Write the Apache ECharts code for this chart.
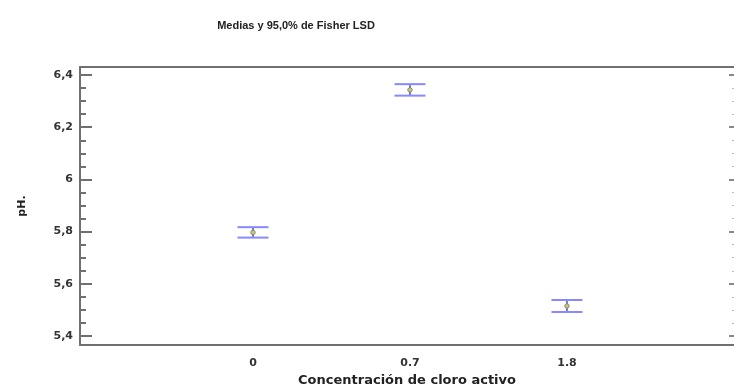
<!DOCTYPE html>
<html><head><meta charset="utf-8">
<script src="https://cdn.jsdelivr.net/npm/echarts@6/dist/echarts.min.js"></script>
<style>html,body{margin:0;padding:0;background:#fff}#c{width:734px;height:387px}</style>
</head><body><div id="c"></div>
<script>
const categories = ['0', '0.7', '1.8'];
const means = [5.797, 6.343, 5.515];
const lower = [5.777, 6.321, 5.492];
const upper = [5.817, 6.365, 5.538];
const yMajorTicks = [5.4, 5.6, 5.8, 6.0, 6.2, 6.4];
const yMinorTicks = [5.45,5.5,5.55,5.65,5.7,5.75,5.85,5.9,5.95,6.05,6.1,6.15,6.25,6.3,6.35];
const xPositions = [1, 2, 3];

const font = 'Liberation Sans, Arial, sans-serif';
const wideFont = 'DejaVu Sans, sans-serif';
const axisColor = '#707070';
const data = categories.map((c, i) => [xPositions[i], means[i], lower[i], upper[i]]);

function yAxisCfg(opts) {
  return Object.assign({
    type: 'value', min: 5.3655, max: 6.4307, gridIndex: 0, offset: 0,
    splitLine: {show: false},
    axisLine: {show: false, onZero: false},
    axisLabel: {show: false},
    axisTick: {show: false}
  }, opts);
}

const chart = echarts.init(document.getElementById('c'));
chart.setOption({
  animation: false,
  backgroundColor: '#fff',
  title: {
    text: 'Medias y 95,0% de Fisher LSD',
    left: 291, top: 15, textAlign: 'center',
    textStyle: {fontFamily: font, fontSize: 11, fontWeight: 'bold', color: '#222'}
  },
  grid: {left: 80, right: 0, top: 67, bottom: 42, containLabel: false, outerBoundsMode: 'none'},
  xAxis: [{
    type: 'value', min: -0.102, max: 4.064, position: 'bottom', offset: 0,
    splitLine: {show: false},
    axisLine: {show: true, onZero: false, lineStyle: {color: axisColor, width: 2}},
    axisTick: {show: false},
    axisLabel: {
      show: true, customValues: xPositions, margin: 13,
      formatter: v => categories[xPositions.indexOf(Math.round(v))] || '',
      fontFamily: wideFont, fontSize: 11, fontWeight: 'bold', color: '#333'
    },
    name: 'Concentración de cloro activo', nameLocation: 'middle', nameGap: 27,
    nameTextStyle: {fontFamily: wideFont, fontSize: 13, fontWeight: 'bold', color: '#222'}
  }, {
    type: 'value', min: -0.102, max: 4.064, position: 'top', offset: 0,
    splitLine: {show: false},
    axisLine: {show: true, onZero: false, lineStyle: {color: axisColor, width: 2}},
    axisTick: {show: false}, axisLabel: {show: false}
  }],
  yAxis: [
    yAxisCfg({
      position: 'left',
      axisLine: {show: true, onZero: false, lineStyle: {color: axisColor, width: 2}},
      axisTick: {show: true, inside: true, length: 12, customValues: yMajorTicks, lineStyle: {color: axisColor, width: 2}},
      axisLabel: {show: true, customValues: yMajorTicks, margin: 7,
        formatter: v => String(Math.round(v * 10) / 10).replace('.', ','),
        fontFamily: wideFont, fontSize: 11, fontWeight: 'bold', color: '#333'},
      name: 'pH.', nameLocation: 'middle', nameGap: 52, nameRotate: 90,
      nameTextStyle: {fontFamily: wideFont, fontSize: 11, fontWeight: 'bold', color: '#222'}
    }),
    yAxisCfg({
      position: 'left',
      axisTick: {show: true, inside: true, length: 6, customValues: yMinorTicks, lineStyle: {color: axisColor, width: 2}}
    }),
    yAxisCfg({
      position: 'right',
      axisTick: {show: true, inside: true, length: 5, customValues: yMajorTicks, lineStyle: {color: '#888', width: 2}}
    }),
    yAxisCfg({
      position: 'right',
      axisTick: {show: true, inside: true, length: 2, customValues: yMinorTicks, lineStyle: {color: '#bbb', width: 1}}
    })
  ],
  series: [{
    type: 'custom',
    xAxisIndex: 0, yAxisIndex: 0,
    data: data,
    renderItem: function (params, api) {
      const x = api.value(0);
      const pm = api.coord([x, api.value(1)]);
      const pl = api.coord([x, api.value(2)]);
      const pu = api.coord([x, api.value(3)]);
      const hw = 15.5;
      return {
        type: 'group',
        children: [
          {type: 'line', shape: {x1: pm[0], y1: pl[1], x2: pm[0], y2: pu[1]}, style: {stroke: '#4a4ae0', lineWidth: 1.5}},
          {type: 'line', shape: {x1: pm[0] - hw, y1: pu[1], x2: pm[0] + hw, y2: pu[1]}, style: {stroke: '#8888ff', lineWidth: 2}},
          {type: 'line', shape: {x1: pm[0] - hw, y1: pl[1], x2: pm[0] + hw, y2: pl[1]}, style: {stroke: '#8888ff', lineWidth: 2}},
          {type: 'circle', shape: {cx: pm[0], cy: pm[1], r: 2.2}, style: {fill: '#c8c890', stroke: '#8a8a50', lineWidth: 1}}
        ]
      };
    }
  }]
});
</script></body></html>
